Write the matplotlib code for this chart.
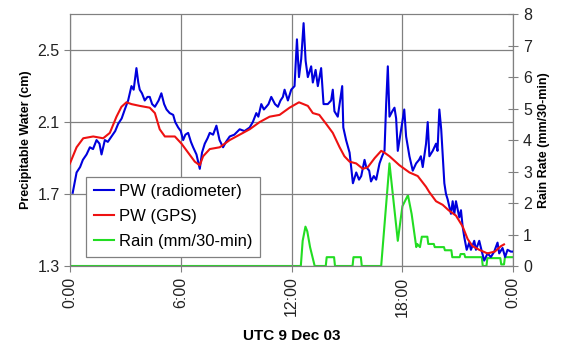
import numpy as np
from matplotlib import pyplot as plt

plt.rcParams["font.family"] = ["Liberation Sans", "DejaVu Sans"]

# PW radiometer (hours UTC, cm)
rad_h = [0.15, 0.36, 0.55, 0.7, 0.9, 1.08, 1.25, 1.44, 1.6, 1.71, 1.89, 2.05, 2.25, 2.45,
         2.61, 2.8, 2.97, 3.15, 3.33, 3.45, 3.6, 3.7, 3.78, 3.9, 4.05, 4.2, 4.32, 4.45,
         4.6, 4.8, 4.95, 5.1, 5.23, 5.4, 5.59, 5.7, 5.86, 6.0, 6.13, 6.25, 6.4, 6.55,
         6.67, 6.85, 7.03, 7.15, 7.3, 7.45, 7.57, 7.75, 7.93, 8.1, 8.29, 8.45, 8.65,
         8.9, 9.19, 9.45, 9.73, 9.9, 10.09, 10.2, 10.36, 10.5, 10.63, 10.75, 10.9, 11.1,
         11.26, 11.4, 11.53, 11.62, 11.8, 11.98, 12.16, 12.29, 12.4, 12.52, 12.65, 12.76,
         12.88, 13.06, 13.15, 13.3, 13.42, 13.6, 13.73, 13.96, 14.14, 14.23, 14.32, 14.5,
         14.6, 14.74, 14.8, 14.95, 15.14, 15.32, 15.5, 15.65, 15.77, 15.95, 16.04, 16.2,
         16.3, 16.45, 16.58, 16.76, 16.9, 17.03, 17.12, 17.21, 17.3, 17.45, 17.57, 17.66,
         17.75, 17.93, 18.1, 18.2, 18.38, 18.56, 18.74, 18.9, 19.0, 19.1, 19.28, 19.37,
         19.46, 19.64, 19.82, 19.9, 20.0, 20.1, 20.27, 20.36, 20.45, 20.63, 20.72, 20.81,
         20.9, 21.08, 21.17, 21.26, 21.35, 21.48, 21.62, 21.71, 21.89, 21.98, 22.16, 22.3,
         22.43, 22.61, 22.79, 22.97, 23.15, 23.24, 23.42, 23.56, 23.69, 23.87, 23.96]
rad_pw = [1.707, 1.82, 1.85, 1.89, 1.92, 1.96, 1.95, 2.0, 1.98, 1.92, 2.0, 1.99, 2.02, 2.05,
          2.09, 2.12, 2.17, 2.22, 2.30, 2.28, 2.40, 2.32, 2.28, 2.26, 2.22, 2.24, 2.24, 2.20,
          2.185, 2.22, 2.26, 2.2, 2.17, 2.15, 2.14, 2.10, 2.07, 2.05, 2.0, 2.03, 2.04, 1.99,
          1.96, 1.92, 1.84, 1.93, 1.98, 2.01, 2.04, 2.03, 2.08, 2.0, 1.96, 1.99, 2.02,
          2.03, 2.06, 2.05, 2.07, 2.10, 2.15, 2.13, 2.20, 2.17, 2.185, 2.20, 2.24, 2.2,
          2.185, 2.22, 2.24, 2.28, 2.22, 2.28, 2.30, 2.56, 2.35, 2.45, 2.65, 2.44,
          2.35, 2.41, 2.32, 2.39, 2.30, 2.40, 2.20, 2.20, 2.22, 2.28, 2.16, 2.13,
          2.2, 2.30, 2.07, 2.0, 1.93, 1.76, 1.82, 1.78, 1.80, 1.89, 1.85, 1.83,
          1.77, 1.80, 1.78, 1.87, 1.91, 1.94, 2.2, 2.41, 2.13, 2.16, 2.18, 2.12,
          1.94, 2.06, 2.17, 2.02, 1.91, 1.83, 1.87, 1.89, 1.91, 1.85, 1.98, 2.10,
          1.91, 1.94, 1.98, 1.94, 2.17, 2.06, 1.76, 1.70, 1.67, 1.59, 1.66, 1.59,
          1.66, 1.57, 1.61, 1.52, 1.46, 1.39, 1.43, 1.39, 1.44, 1.39, 1.44, 1.38,
          1.33, 1.37, 1.35, 1.38, 1.43, 1.37, 1.40, 1.35, 1.39, 1.38, 1.38]

# PW GPS (hours UTC, cm)
gps_h = [0, 0.36, 0.72, 1.26, 1.8, 2.16, 2.52, 2.79, 3.06, 3.33, 3.78, 4.32, 4.6, 4.86,
         5.14, 5.68, 6.04, 6.4, 6.76, 7.03, 7.21, 7.57, 8.11, 8.65, 9.19, 9.73, 10.27,
         10.81, 11.35, 11.89, 12.4, 12.88, 13.15, 13.5, 13.87, 14.23, 14.6, 14.86, 15.14,
         15.5, 15.86, 16.13, 16.5, 16.85, 17.03, 17.3, 17.84, 18.38, 18.83, 19.28, 19.46,
         19.82, 20.18, 20.5, 20.9, 21.26, 21.53, 21.8, 22.16, 22.6, 23.0, 23.33, 23.5]
gps_pw = [1.87, 1.96, 2.01, 2.02, 2.01, 2.04, 2.13, 2.185, 2.21, 2.2, 2.19, 2.18, 2.15, 2.06,
          2.02, 2.02, 1.98, 1.93, 1.88, 1.86, 1.91, 1.95, 1.96, 2.0, 2.03, 2.06, 2.10,
          2.13, 2.14, 2.18, 2.21, 2.19, 2.15, 2.14, 2.09, 2.04, 1.96, 1.91, 1.88,
          1.87, 1.84, 1.85, 1.90, 1.94, 1.93, 1.91, 1.86, 1.82, 1.80, 1.74, 1.71,
          1.66, 1.64, 1.61, 1.58, 1.52, 1.45, 1.41, 1.39, 1.37, 1.38, 1.41, 1.42]

# rain rate (hours UTC, mm/30-min)
rain_h = [0, 12.5, 12.6, 12.75, 12.85, 13.0, 13.25, 13.85, 13.9, 14.3, 14.35, 15.3, 15.35,
          15.75, 15.8, 16.85, 17.3, 17.75, 18.0, 18.3, 18.5, 18.75, 18.8, 18.95, 19.05,
          19.35, 19.4, 19.7, 19.75, 20.25, 20.3, 20.65, 20.7, 21.1, 21.15, 21.35, 21.4,
          22.3, 22.35, 22.55, 22.6, 23.3, 23.35, 23.5, 23.55, 24.0]
rain_mm = [0, 0, 0.8, 1.25, 1.1, 0.6, 0, 0, 0.28, 0.28, 0, 0, 0.28,
           0.28, 0, 0, 3.26, 0.8, 1.9, 2.25, 1.65, 0.6, 0.7, 0.6, 0.93,
           0.93, 0.7, 0.7, 0.6, 0.6, 0.5, 0.5, 0.28, 0.28, 0.38, 0.38, 0.28,
           0.28, 0, 0, 0.25, 0.25, 0.05, 0.05, 0.28, 0.28]

xticks = [0, 6, 12, 18, 24]
xlabels = ["0:00", "6:00", "12:00", "18:00", "0:00"]

fig = plt.figure(figsize=(5.64, 3.45), dpi=100)
ax = fig.add_axes([0.124, 0.229, 0.786, 0.730])
ax2 = ax.twinx()

l1, = ax.plot(rad_h, rad_pw, color="#0000dd", lw=1.5, label="PW (radiometer)", zorder=3)
l2, = ax.plot(gps_h, gps_pw, color="#ee1111", lw=1.5, label="PW (GPS)", zorder=4)
l3, = ax2.plot(rain_h, rain_mm, color="#22dd22", lw=1.5, label="Rain (mm/30-min)")

ax.set_zorder(ax2.get_zorder() + 1)
ax.patch.set_visible(False)

ax.set_xlim(0, 24)
ax.set_ylim(1.3, 2.7)
ax.set_yticks([1.3, 1.7, 2.1, 2.5])
ax.set_yticklabels(["1.3", "1.7", "2.1", "2.5"])
ax2.set_ylim(0, 8)
ax2.set_yticks(range(0, 9))
ax.set_xticks(xticks)
ax.set_xticklabels(xlabels, rotation=90)

ax.grid(True, color="#808080", lw=0.9)
for a in (ax, ax2):
    for s in a.spines.values():
        s.set_color("#808080")
    a.tick_params(colors="#808080", labelcolor="#222222", labelsize=11.5, length=4)
ax2.tick_params(direction="inout", length=7)

ax.set_ylabel("Precipitable Water (cm)", fontsize=9, fontweight="bold")
ax2.set_ylabel("Rain Rate (mm/30-min)", fontsize=9, fontweight="bold")
ax.set_xlabel("UTC 9 Dec 03", fontsize=11, fontweight="bold", labelpad=9)

leg = ax.legend(handles=[l1, l2, l3], loc="lower left", bbox_to_anchor=(0.037, 0.037),
                fontsize=12, fancybox=False, framealpha=1, edgecolor="#808080",
                handlelength=1.2, handletextpad=0.3, borderpad=0.45, labelspacing=0.6,
                borderaxespad=0)
leg.get_frame().set_linewidth(0.9)

fig.savefig("out.png", dpi=100)
